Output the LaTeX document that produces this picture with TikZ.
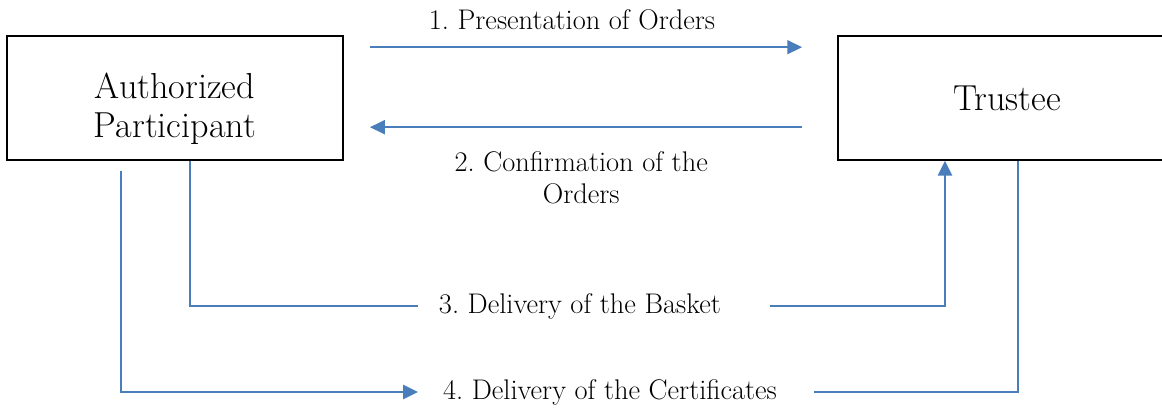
\documentclass[tikz,border=0pt]{standalone}
\usepackage{xcolor}
\usepackage{tikz}
\usetikzlibrary{arrows.meta}
\definecolor{APBlue}{HTML}{4A7EBB}
\frenchspacing

\begin{document}
\begin{tikzpicture}[x=1cm,y=1cm,
  partybox/.style={draw,line width=1.1pt,minimum width=8.4cm,minimum height=3.1cm,
    align=center,font=\fontsize{25.7}{27.7}\selectfont},
  flow/.style={APBlue,line width=1.3pt},
  tip/.style={-{Triangle[length=10.5pt,width=10pt]}},
  steplabel/.style={inner sep=0pt,align=center,font=\fontsize{20.2}{22.7}\selectfont}]
\path[use as bounding box] (0,0) rectangle (29.05,10.20);
\fill[white] (0,0) rectangle (29.05,10.20);
% parties
\node[partybox] (ap) at (4.375,7.75) {\rule{0pt}{33.4pt}Authorized\\Participant};
\node[partybox,minimum width=8.45cm] (tr) at (25.175,7.75) {Trustee};
% step labels
\node[steplabel,anchor=base] (s1) at (14.30,9.47) {1. Presentation of Orders};
\node[steplabel,anchor=north] (s2) at (14.53,6.42) {2. Confirmation of the\\Orders};
\node[steplabel,anchor=base] (s3) at (14.50,2.35) {3. Delivery of the Basket};
\node[steplabel,anchor=base] (s4) at (15.25,0.20) {4. Delivery of the Certificates};
% end points
\coordinate (p1a) at (9.25,9.02);
\coordinate (p1b) at (20.05,9.02);
\coordinate (p2a) at (20.05,7.02);
\coordinate (p2b) at (9.25,7.02);
\path (ap.south) ++(0.375,0) coordinate (b3s);
\coordinate (b3l) at (10.45,2.55);
\coordinate (b3r) at (19.25,2.55);
\path (tr.south) ++(-1.55,0) coordinate (b3e);
\path (ap.south) ++(-1.35,-0.25) coordinate (c4s);
\coordinate (c4l) at (10.45,0.40);
\coordinate (c4r) at (20.35,0.40);
\path (tr.south) ++(0.275,0) coordinate (c4e);
% flows
\draw[flow,tip] (p1a) -- (p1b);
\draw[flow,tip] (p2a) -- (p2b);
\draw[flow] (b3s) |- (b3l);
\draw[flow,tip] (b3r) -| (b3e);
\draw[flow,tip] (c4s) |- (c4l);
\draw[flow] (c4r) -| (c4e);
\end{tikzpicture}
\end{document}
